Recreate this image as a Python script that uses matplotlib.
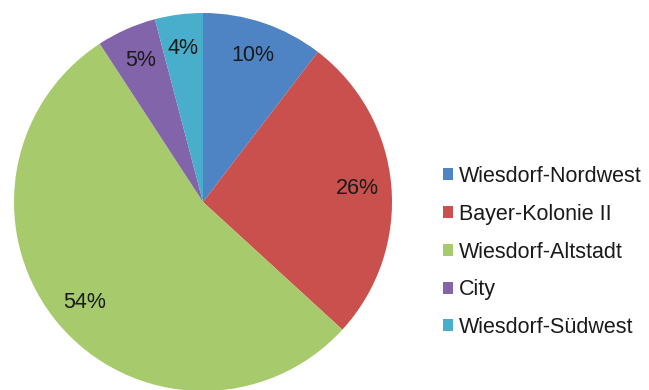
import matplotlib
matplotlib.use('Agg')
import matplotlib.pyplot as plt
from matplotlib.patches import Patch

# data
districts = ['Wiesdorf-Nordwest', 'Bayer-Kolonie II', 'Wiesdorf-Altstadt', 'City', 'Wiesdorf-Südwest']
shares = [10.4, 26.4, 54.0, 5.1, 4.1]
colors = ['#4F84C4', '#C9504C', '#A7CB6C', '#8264AA', '#48AECB']

plt.rcParams['font.family'] = ['Liberation Sans', 'DejaVu Sans']

fig = plt.figure(figsize=(6.49, 3.9), dpi=100)
ax = fig.add_axes([14/649, -1/390, 378/649, 378/390])

wedges, texts, autotexts = ax.pie(shares, colors=colors, startangle=90, counterclock=False,
                                  autopct=lambda p: '%d%%' % round(p), pctdistance=0.82,
                                  radius=1, wedgeprops=dict(linewidth=0))
for t in autotexts:
    t.set_fontsize(15.5)
    t.set_color('#1a1a1a')
ax.set_xlim(-1, 1)
ax.set_ylim(-1, 1)
ax.axis('off')

handles = [Patch(facecolor=c, edgecolor='none') for c in colors]
fig.legend(handles, districts, loc='center left', bbox_to_anchor=(432/649, 1 - 252/390),
           frameon=False, fontsize=15.5, handlelength=0.47, handleheight=0.47,
           handletextpad=0.3, labelspacing=0.78, borderpad=0, labelcolor='#1a1a1a')

fig.savefig('out.png', dpi=100)
